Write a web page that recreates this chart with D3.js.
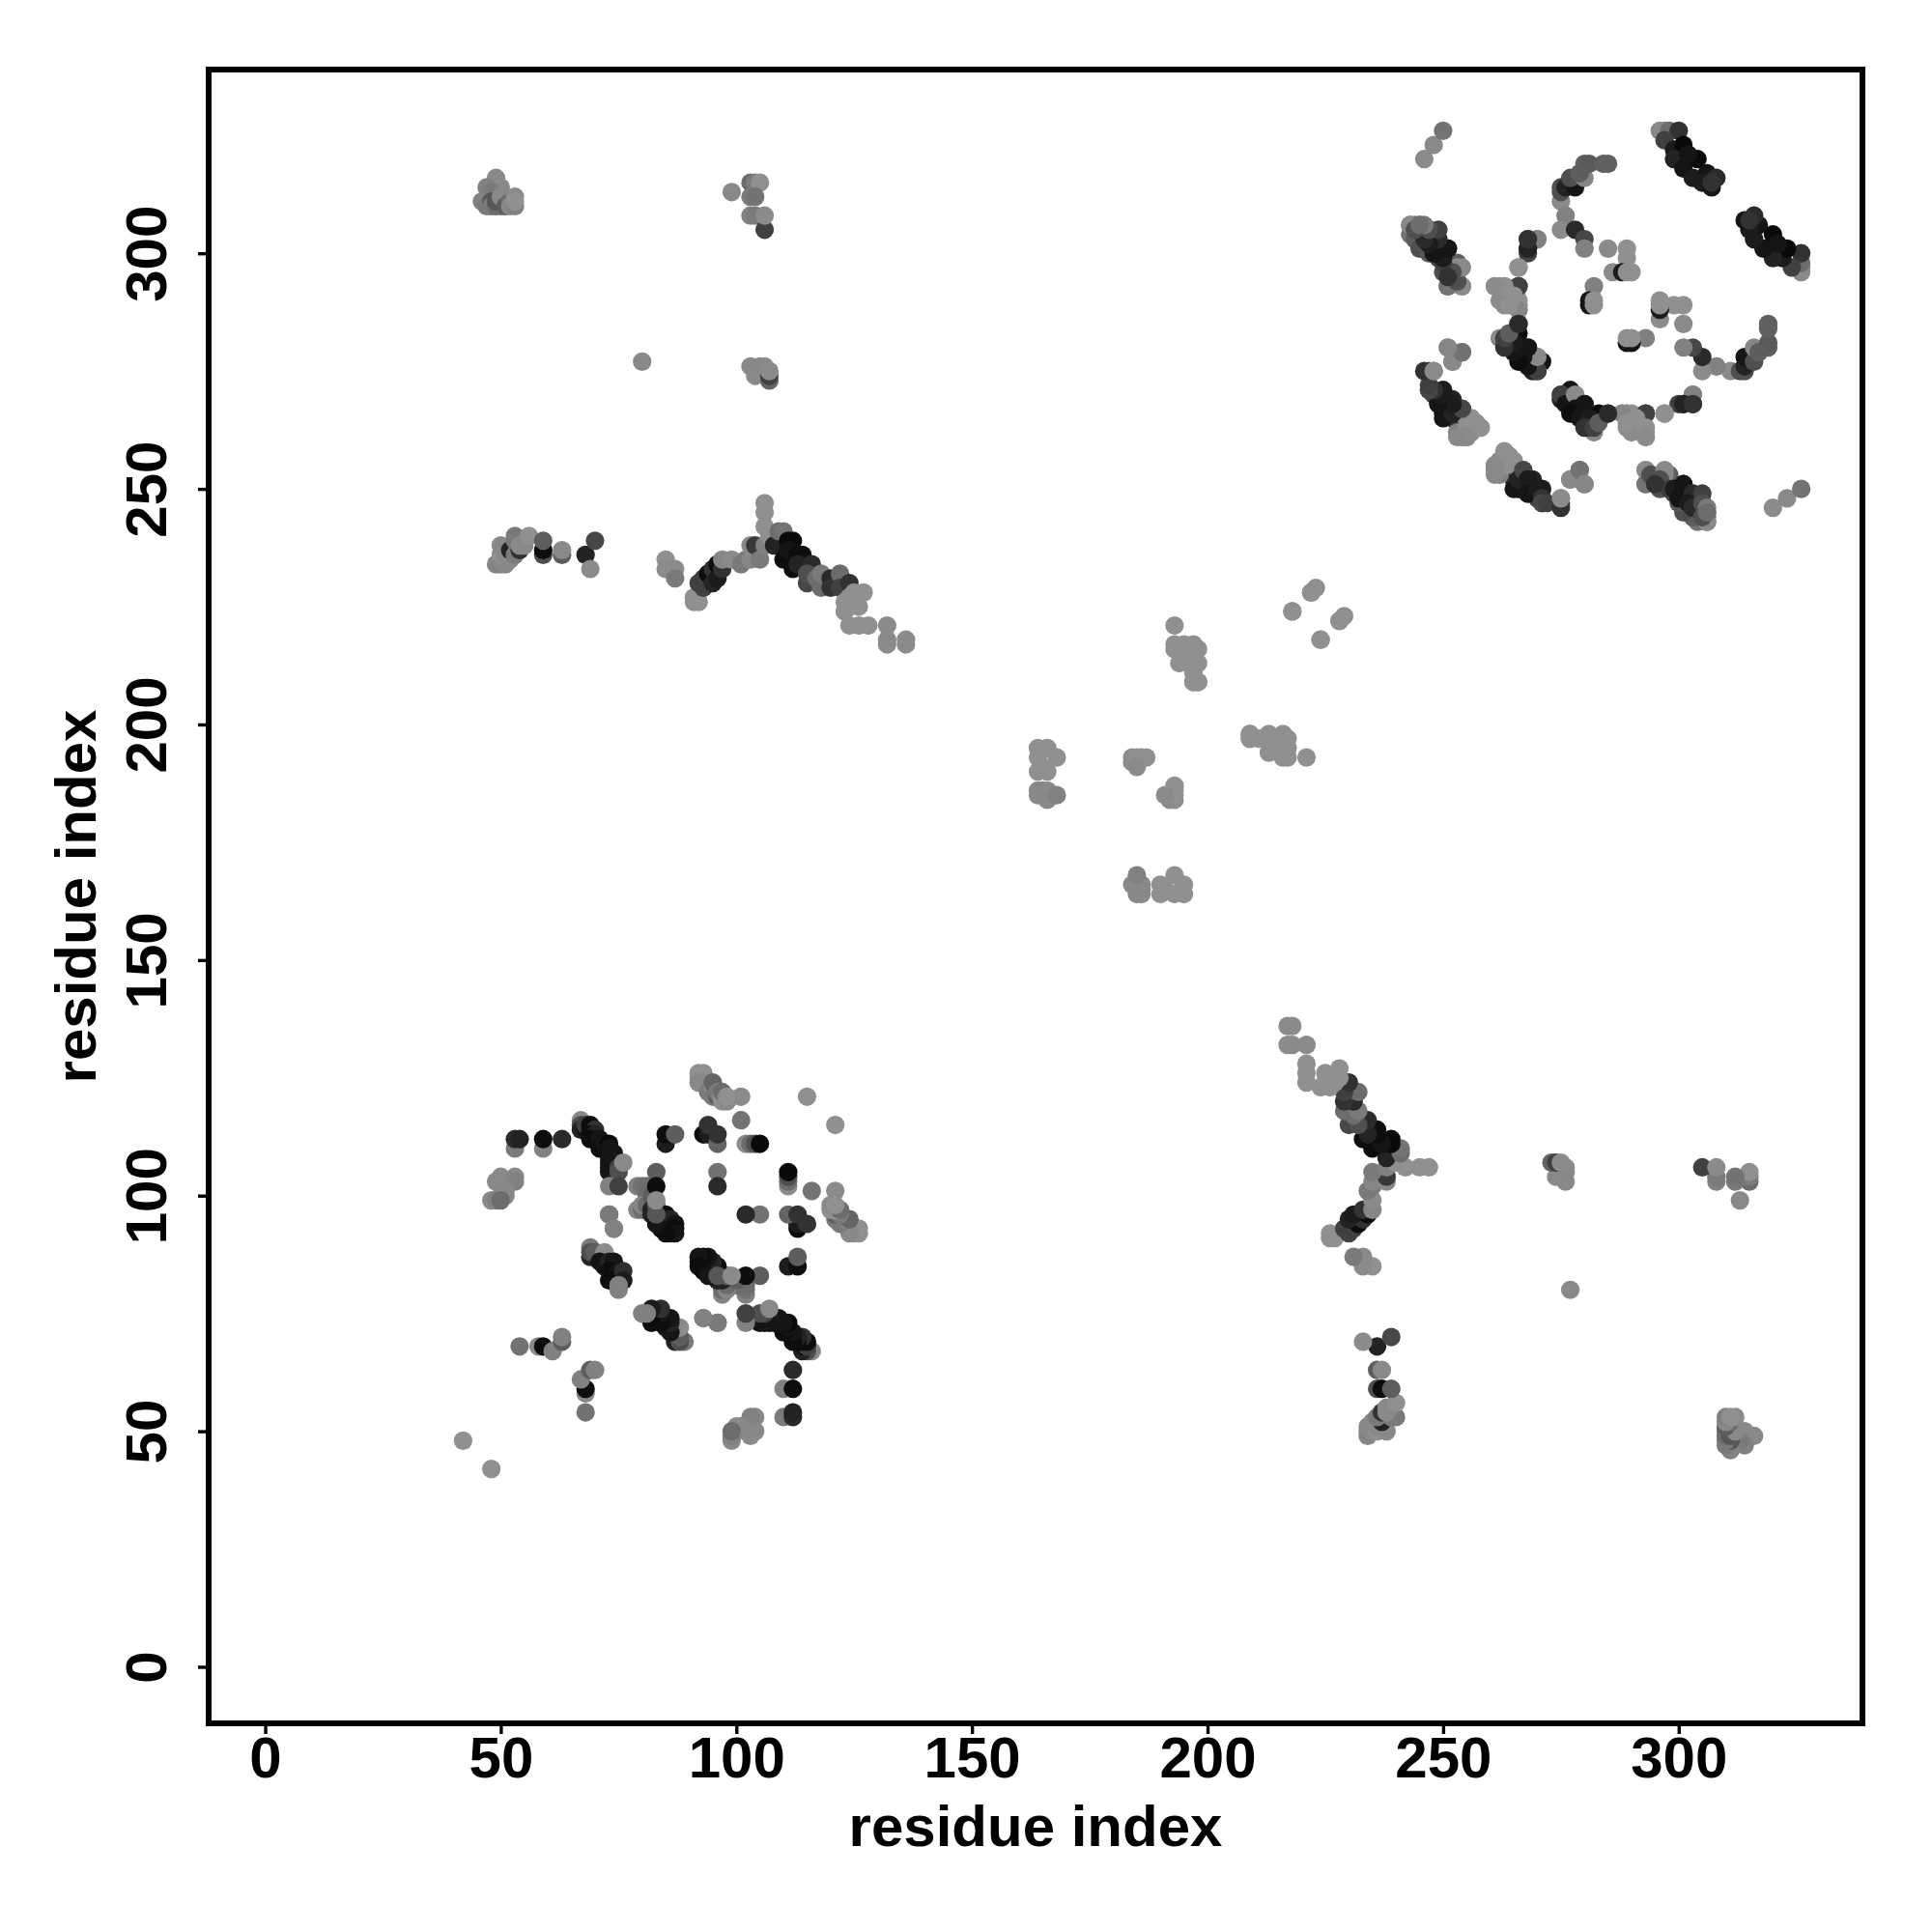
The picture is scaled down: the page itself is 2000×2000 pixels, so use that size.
<!DOCTYPE html>
<html>
<head>
<meta charset="utf-8">
<title>residue contact map</title>
<script src="https://d3js.org/d3.v7.min.js"></script>
<style>
  html, body { margin: 0; padding: 0; background: #fff; }
  text { font-family: "Liberation Sans", Arial, sans-serif; font-weight: bold; fill: #000; }
</style>
</head>
<body>
<div id="chart"></div>
<script>
// residue contacts, [i, j, strength]. the map is symmetric so (j, i) gets drawn too
// strength 0 = palest gray, 1 = black. later entries sit on top

var tickValues = [0, 50, 100, 150, 200, 250, 300];
var axisLabel = "residue index";

var strayContacts = [[42,48,.05],[80,277,.1],[246,320,.08],[248,323,.1],[250,326,.25],[115,121,.05],[101,121,.08],[101,116,.25]];

var helixA = [[67,116,.1],[67,115,.5],[67,114,.8],[68,114,.9],[68,115,.6],[69,114,.9],[69,115,.95],[70,114,.7],[69,113,.95],[70,113,.8],
  [69,112,.95],[71,112,.9],[71,110,.95],[72,111,.9],[73,111,.97],[73,110,.9],[73,109,.9],[74,109,.9],[73,108,.9],[74,107,.8],[73,107,.9],
  [73,106,.9],[74,105,.8],[73,105,.9],[75,106,.6],[75,105,.5],[76,107,.1],[73,102,.15],[75,102,.6],[73,96,.2],[74,93,.15]];

var helixB = [[79,102,.15],[80,102,.25],[79,97,.12],[81,102,.3],[81,100,.3],[80,97,.3],[80,98,.12],[81,98,.3],[82,100,.4],[83,105,.4],
  [83,102,.95],[82,96,.8],[82,97,.8],[83,95,.9],[83,98,.4],[84,96,.8],[84,94,.95],[85,96,.95],[84,93,.95],[85,93,.95],[86,95,.8],
  [86,92,.8],[86,93,.9],[87,94,.9],[87,93,.95],[87,92,.9],[85,92,.95],[83,94,.9],[83,96,.45],[83,99,.08]];

var helixC = [[69,89,.2],[69,87,.8],[69,88,.5],[70,88,.4],[72,87,.3],[72,88,.07],[71,86,.9],[72,85,.9],[73,86,.8],[74,86,.9],
  [73,84,.95],[74,83,.95],[75,84,.9],[73,82,.95],[75,82,.95],[76,84,.72],[76,82,.85],[75,81,.15],[75,80,.15]];

var looseA = [[50,104,.1],[53,104,.1],[50,103,.1],[53,103,.15],[51,101,.1],[50,100,.2],[51,100,.1],[48,99,.1],[49,99,.15],[50,99,.3],
  [49,103,.1],[53,110,.2],[53,112,.75],[54,112,.8],[59,110,.15],[59,112,.95],[63,112,.75],[54,68,.25],[58,68,.1],
  [59,68,.95],[61,67,.15],[63,69,.4],[63,70,.15],[93,74,.25],[96,73,.25],
  [93,113,.95],[94,113,.85],[94,115,.7],[96,111,.35],[96,113,.7],[85,111,.85],[85,113,.95],[87,113,.4],[96,105,.25],[96,102,.75],
  [102,111,.08],[103,111,.3],[104,111,.5],[105,111,.97]];

var helixD = [[92,126,.05],[93,126,.05],[92,125,.05],[93,125,.05],[92,124,.1],[93,124,.1],[94,122,.2],[95,123,.1],[95,121,.2],[96,121,.4],
  [95,124,.35],[96,122,.2],[97,120,.05],[97,121,.05],[97,122,.3],[98,120,.1],[98,121,.05]];

var pairsAB1 = [[49,316,.1],[47,314,.15],[50,314,.1],[48,313,.2],[46,311,.15],[47,310,.2],[48,311,.45],[48,310,.2],[49,310,.3],[50,310,.3],
  [49,311,.45],[50,312,.1],[51,310,.4],[52,311,.3],[52,310,.1],[53,310,.15],[53,312,.1],[53,311,.05],
  [99,313,.1],[103,315,.3],[104,315,.2],[105,315,.05],[103,312,.2],[104,312,.25],[103,308,.15],[104,308,.2],[106,305,.6],[106,308,.08],
  [103,276,.1],[105,276,.1],[106,276,.1],[104,274,.1],[107,273,.35],[107,274,.6],[107,275,.08]];

var pairsAB2 = [[49,234,.12],[50,234,.15],[51,234,.1],[50,235,.1],[50,236,.05],[51,236,.1],[50,238,.1],[52,235,.1],[52,237,.8],[53,236,.2],
  [53,239,.2],[53,240,.2],[54,237,.7],[54,238,.1],[55,238,.1],[56,240,.05],[59,236,.5],[59,237,.95],[59,239,.4],[63,236,.4],[63,237,.1],
  [68,236,.8],[69,233,.08],[70,239,.55],
  [85,235,.05],[85,233,.08],[87,233,.08],[87,231,.2],[91,226,.05],[92,226,.05],[91,227,.05],[92,230,.6],[93,229,.6],[93,231,.6],[94,232,.95],
  [95,230,.8],[95,233,.7],[96,231,.85],[96,234,.95],[97,233,.7],[97,235,.12],[99,235,.08],[101,234,.2],[102,235,.2],[103,235,.12],[103,238,.1],
  [104,238,.65],[105,235,.2],[106,238,.15],[106,247,.05],[106,245,.05],[106,242,.05],[107,240,.05],
  [108,238,.8],[109,241,.3],[110,241,.25],[110,235,.95],[111,239,.97],[112,239,.97],[111,237,.9],[113,236,.95],[114,236,.95],[112,233,.95],
  [113,234,.8],[115,230,.55],[116,234,.75],[115,232,.5],[117,231,.3],[118,229,.3],[118,232,.2],[120,231,.75],[120,229,.7],[122,232,.3],[122,229,.6],
  [124,230,.7],[123,224,.05],[123,226,.05],[124,227,.05],[125,228,.05],[127,228,.05],[124,225,.05],[126,225,.05],[124,221,.05],[126,221,.05],[128,221,.05],
  [132,221,.08],[132,218,.08],[132,217,.08],[136,218,.08],[136,217,.08]];

var domainM = [[164,195,.05],[166,195,.05],[168,193,.05],[164,193,.05],[165,191,.05],[164,190,.05],[166,190,.05],[164,186,.08],[165,186,.12],
  [164,185,.1],[166,184,.1],[166,186,.1],[168,185,.15],
  [184,193,.08],[184,192,.08],[185,193,.05],[186,193,.05],[187,193,.05],[185,191,.08],[193,221,.05],
  [193,217,.05],[193,216,.05],[195,217,.05],[197,217,.05],[198,216,.05],[194,213,.05],[195,215,.05],[198,213,.05],[197,214,.05],[197,211,.05],[197,209,.05],[198,209,.05],
  [198,209,.05],[197,209,.05],[222,228,.05],[223,229,.05],[218,224,.05],[222,228,.05],[224,218,.05]];

var helixE = [[243,306,.08],[244,306,.15],[245,306,.2],[243,304,.25],[244,303,.4],[247,305,.5],[245,301,.5],[248,303,.65],[247,300,.45],
  [251,301,.85],[249,299,.55],[250,296,.5],[252,296,.8],[251,298,.6],[253,298,.4],[253,297,.08],[251,293,.12],[253,294,.5],[254,293,.05]];

var helixF = [[297,326,.12],[296,326,.1],[298,326,.3],[300,326,.7],[297,324,.6],[299,322,.85],[301,323,.97],[299,320,.8],[301,318,.9],[304,320,.97],
  [302,321,.9],[303,316,.85],[306,317,.9],[305,315,.85],[308,316,.75],[307,314,.9],[307,315,.7]];

var helixG = [[275,311,.08],[275,314,.5],[275,313,.5],[276,314,.8],[278,314,.9],[277,316,.5],[280,316,.12],[280,319,.38],[281,319,.42],[284,319,.38],[285,319,.38],
  [279,317,.4]];

var looseB1 = [[276,308,.15],[275,305,.08],[278,305,.75],[280,303,.55],[280,301,.15],[268,300,.6],[268,301,.6],[268,303,.6],[270,303,.08],[266,297,.2],
  [261,293,.08],[262,293,.1],[263,293,.12],[263,289,.08],[264,291,.08],[266,289,.05],[266,290,.05],[266,288,.08],[266,293,.6],
  [285,301,.08],[289,301,.05],[289,299,.05],[286,296,.08],[288,296,.85],[289,296,.05],[290,296,.05],[282,293,.15],[281,289,.9],[281,290,.9],[282,289,.05],[282,290,.05]];

var looseB2 = [[266,285,.6],[262,282,.1],[263,281,.4],[264,282,.6],[265,280,.95],[266,279,.85],[268,280,.85],[267,278,.9],[266,283,.95],[268,277,.95],
  [269,276,.9],[270,278,.3],[270,276,.85],[271,277,.9],[270,275,.2],[251,280,.12],[254,279,.25],[252,277,.08],
  [247,275,.55],[248,275,.08],[247,271,.4],[248,270,.6],[250,271,.85],[249,268,.85],[250,266,.9],[252,269,.8],[252,265,.7],[254,267,.45],[255,265,.25],[256,265,.05],
  [257,264,.05],[253,262,.15],[254,261,.2],[255,261,.2],[255,263,.05],[256,263,.05]];

var helixH = [[261,255,.1],[261,253,.1],[262,256,.08],[263,258,.05],[264,257,.05],[265,255,.05],[265,250,.9],[266,252,.8],[267,254,.55],[268,252,.85],[268,249,.9],
  [270,250,.85],[271,248,.7],[271,247,.55],[272,247,.6],[275,246,.7],[275,248,.08],[277,252,.1],[279,254,.25],[280,251,.12]];

var helixI = [[293,254,.1],[293,251,.25],[294,253,.5],[297,254,.1],[296,252,.5],[298,250,.6],[295,251,.7],[299,250,.85],[301,251,.9],[300,248,.9],
  [303,249,.75],[302,247,.85],[305,249,.6],[303,246,.75],[305,247,.5],[306,246,.2],[306,243,.1],[305,244,.5],[306,245,.3]];

var looseB4 = [[303,270,.15],[301,268,.8],[303,268,.7],[297,266,.05],[293,266,.6],[289,266,.05],[288,266,.12],[290,262,.08],[293,263,.05],[293,261,.08],
  [291,265,.05],[289,264,.05],
  [275,269,.8],[275,270,.6],[276,268,.9],[278,270,.1],[278,267,.9],[277,266,.95],[280,268,.9],[279,265,.9],[281,265,.85],[280,263,.7],[282,263,.6],[283,264,.4],[285,266,.75]];

var contactBlocks = [strayContacts, looseA, helixA, helixC, helixB, helixD, pairsAB1, pairsAB2, domainM,
  helixE, helixF, helixG, looseB1, looseB2, helixH, helixI, looseB4];

var contacts = [];
contactBlocks.forEach(function (block) {
  block.forEach(function (c) {
    contacts.push({ x: c[0], y: c[1], s: c[2] });
    contacts.push({ x: c[1], y: c[0], s: c[2] });
  });
});

var svg = d3.select("#chart").append("svg")
  .attr("width", 2000)
  .attr("height", 2000);

// R style 4% padding round 1..326
var x = d3.scaleLinear().domain([-12, 339]).range([216, 1928]);
var y = d3.scaleLinear().domain([-12, 339]).range([1784, 72]);
var gray = d3.scaleLinear().domain([0, 1]).range(["#979797", "#060606"]);

svg.append("g")
  .selectAll("circle")
  .data(contacts)
  .enter().append("circle")
  .attr("cx", function (d) { return x(d.x); })
  .attr("cy", function (d) { return y(d.y); })
  .attr("r", 9.6)
  .attr("fill", function (d) { return gray(d.s); });

// frame
svg.append("rect")
  .attr("x", 216)
  .attr("y", 72)
  .attr("width", 1712)
  .attr("height", 1712)
  .attr("fill", "none")
  .attr("stroke", "#000")
  .attr("stroke-width", 6);

var xAxis = svg.append("g")
  .attr("transform", "translate(0,1784)")
  .call(d3.axisBottom(x).tickValues(tickValues).tickSize(11).tickFormat(d3.format("d")));
xAxis.select(".domain").remove();
xAxis.selectAll("line").attr("stroke", "#000").attr("stroke-width", 3.4);
xAxis.selectAll("text")
  .attr("y", 56)
  .attr("dy", 0)
  .style("font-size", "60px");

var yAxis = svg.append("g")
  .attr("transform", "translate(216,0)")
  .call(d3.axisLeft(y).tickValues(tickValues).tickSize(11).tickFormat(d3.format("d")));
yAxis.select(".domain").remove();
yAxis.selectAll("line").attr("stroke", "#000").attr("stroke-width", 3.4);
yAxis.selectAll("text")
  .attr("x", 0)
  .attr("dy", 0)
  .attr("text-anchor", "middle")
  .attr("transform", "translate(-44.5,0) rotate(-90)")
  .style("font-size", "60px");

svg.append("text")
  .attr("x", 1072)
  .attr("y", 1911)
  .attr("text-anchor", "middle")
  .style("font-size", "60px")
  .text(axisLabel);

svg.append("text")
  .attr("transform", "translate(99,928) rotate(-90)")
  .attr("text-anchor", "middle")
  .style("font-size", "60px")
  .text(axisLabel);
</script>
</body>
</html>
